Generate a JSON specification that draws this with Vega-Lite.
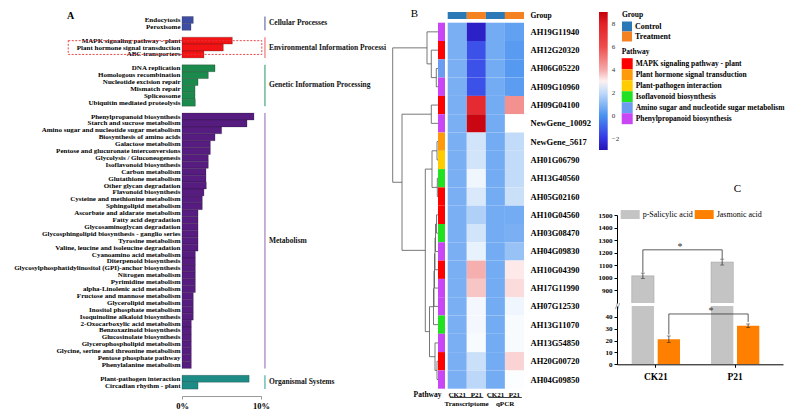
{
"$schema": "https://vega.github.io/schema/vega-lite/v6.json",
"autosize": {"type": "none"},
"padding": {"left": 182, "top": 12, "right": 612, "bottom": 399},
"background": "white",
"config": {
  "view": {"stroke": "transparent"},
  "font": "Liberation Serif",
  "axis": {"labelFont": "Liberation Serif", "titleFont": "Liberation Serif", "labelColor": "#000", "titleColor": "#000", "grid": false, "labelOverlap": false, "labelBound": false},
  "legend": {"labelFont": "Liberation Serif", "titleFont": "Liberation Serif", "labelColor": "#000", "titleColor": "#000"},
  "text": {"font": "Liberation Serif"}
},
"bounds": "flush",
"spacing": 435,
"resolve": {"scale": {"color": "independent", "fill": "independent", "stroke": "independent", "x": "independent", "y": "independent"}, "legend": {"color": "independent", "fill": "independent"}},
"hconcat": [
 {
  "bounds": "flush",
  "spacing": 129,
  "resolve": {"scale": {"color": "independent", "fill": "independent", "stroke": "independent", "x": "independent", "y": "independent"}, "legend": {"color": "independent", "fill": "independent"}},
  "hconcat": [
   {
    "width": 79,
    "height": 384,
    "layer": [
     {
      "data": {"values": [
       {"p": "Endocytosis", "g": "Cellular Processes", "v": 1.43},
       {"p": "Peroxisome", "g": "Cellular Processes", "v": 1.14},
       {"p": "MAPK signaling pathway - plant", "g": "Environmental Information Processing", "v": 6.37},
       {"p": "Plant hormone signal transduction", "g": "Environmental Information Processing", "v": 5.23},
       {"p": "ABC transporters", "g": "Environmental Information Processing", "v": 2.78},
       {"p": "DNA replication", "g": "Genetic Information Processing", "v": 4.18},
       {"p": "Homologous recombination", "g": "Genetic Information Processing", "v": 3.33},
       {"p": "Nucleotide excision repair", "g": "Genetic Information Processing", "v": 2.03},
       {"p": "Mismatch repair", "g": "Genetic Information Processing", "v": 1.65},
       {"p": "Spliceosome", "g": "Genetic Information Processing", "v": 1.65},
       {"p": "Ubiquitin mediated proteolysis", "g": "Genetic Information Processing", "v": 1.69},
       {"p": "Phenylpropanoid biosynthesis", "g": "Metabolism", "v": 9.11},
       {"p": "Starch and sucrose metabolism", "g": "Metabolism", "v": 8.23},
       {"p": "Amino sugar and nucleotide sugar metabolism", "g": "Metabolism", "v": 5.02},
       {"p": "Biosynthesis of amino acids", "g": "Metabolism", "v": 4.18},
       {"p": "Galactose metabolism", "g": "Metabolism", "v": 3.59},
       {"p": "Pentose and glucuronate interconversions", "g": "Metabolism", "v": 3.59},
       {"p": "Glycolysis / Gluconeogenesis", "g": "Metabolism", "v": 3.33},
       {"p": "Isoflavonoid biosynthesis", "g": "Metabolism", "v": 3.33},
       {"p": "Carbon metabolism", "g": "Metabolism", "v": 3.04},
       {"p": "Glutathione metabolism", "g": "Metabolism", "v": 3.04},
       {"p": "Other glycan degradation", "g": "Metabolism", "v": 3.08},
       {"p": "Flavonoid biosynthesis", "g": "Metabolism", "v": 2.78},
       {"p": "Cysteine and methionine metabolism", "g": "Metabolism", "v": 2.57},
       {"p": "Sphingolipid metabolism", "g": "Metabolism", "v": 2.57},
       {"p": "Ascorbate and aldarate metabolism", "g": "Metabolism", "v": 2.03},
       {"p": "Fatty acid degradation", "g": "Metabolism", "v": 2.03},
       {"p": "Glycosaminoglycan degradation", "g": "Metabolism", "v": 2.03},
       {"p": "Glycosphingolipid biosynthesis - ganglio series", "g": "Metabolism", "v": 2.03},
       {"p": "Tyrosine metabolism", "g": "Metabolism", "v": 2.03},
       {"p": "Valine, leucine and isoleucine degradation", "g": "Metabolism", "v": 2.03},
       {"p": "Cyanoamino acid metabolism", "g": "Metabolism", "v": 1.69},
       {"p": "Diterpenoid biosynthesis", "g": "Metabolism", "v": 1.69},
       {"p": "Glycosylphosphatidylinositol (GPI)-anchor biosynthesis", "g": "Metabolism", "v": 1.69},
       {"p": "Nitrogen metabolism", "g": "Metabolism", "v": 1.69},
       {"p": "Pyrimidine metabolism", "g": "Metabolism", "v": 1.69},
       {"p": "alpha-Linolenic acid metabolism", "g": "Metabolism", "v": 1.69},
       {"p": "Fructose and mannose metabolism", "g": "Metabolism", "v": 1.43},
       {"p": "Glycerolipid metabolism", "g": "Metabolism", "v": 1.43},
       {"p": "Inositol phosphate metabolism", "g": "Metabolism", "v": 1.43},
       {"p": "Isoquinoline alkaloid biosynthesis", "g": "Metabolism", "v": 1.43},
       {"p": "2-Oxocarboxylic acid metabolism", "g": "Metabolism", "v": 1.18},
       {"p": "Benzoxazinoid biosynthesis", "g": "Metabolism", "v": 1.18},
       {"p": "Glucosinolate biosynthesis", "g": "Metabolism", "v": 1.18},
       {"p": "Glycerophospholipid metabolism", "g": "Metabolism", "v": 1.18},
       {"p": "Glycine, serine and threonine metabolism", "g": "Metabolism", "v": 1.18},
       {"p": "Pentose phosphate pathway", "g": "Metabolism", "v": 1.18},
       {"p": "Phenylalanine metabolism", "g": "Metabolism", "v": 1.18},
       {"p": "Plant-pathogen interaction", "g": "Organismal Systems", "v": 8.5},
       {"p": "Circadian rhythm - plant", "g": "Organismal Systems", "v": 2.03}
      ]},
      "mark": {"type": "bar", "stroke": "#1a1a1a", "strokeWidth": 0.4, "strokeOpacity": 0.6},
      "encoding": {
       "y": {"field": "p", "type": "nominal",
        "scale": {"domain": ["Endocytosis","Peroxisome","_s1","MAPK signaling pathway - plant","Plant hormone signal transduction","ABC transporters","_s2","DNA replication","Homologous recombination","Nucleotide excision repair","Mismatch repair","Spliceosome","Ubiquitin mediated proteolysis","_s3","Phenylpropanoid biosynthesis","Starch and sucrose metabolism","Amino sugar and nucleotide sugar metabolism","Biosynthesis of amino acids","Galactose metabolism","Pentose and glucuronate interconversions","Glycolysis / Gluconeogenesis","Isoflavonoid biosynthesis","Carbon metabolism","Glutathione metabolism","Other glycan degradation","Flavonoid biosynthesis","Cysteine and methionine metabolism","Sphingolipid metabolism","Ascorbate and aldarate metabolism","Fatty acid degradation","Glycosaminoglycan degradation","Glycosphingolipid biosynthesis - ganglio series","Tyrosine metabolism","Valine, leucine and isoleucine degradation","Cyanoamino acid metabolism","Diterpenoid biosynthesis","Glycosylphosphatidylinositol (GPI)-anchor biosynthesis","Nitrogen metabolism","Pyrimidine metabolism","alpha-Linolenic acid metabolism","Fructose and mannose metabolism","Glycerolipid metabolism","Inositol phosphate metabolism","Isoquinoline alkaloid biosynthesis","2-Oxocarboxylic acid metabolism","Benzoxazinoid biosynthesis","Glucosinolate biosynthesis","Glycerophospholipid metabolism","Glycine, serine and threonine metabolism","Pentose phosphate pathway","Phenylalanine metabolism","_s4","Plant-pathogen interaction","Circadian rhythm - plant","_s5"],
         "paddingInner": 0, "paddingOuter": 0.326, "align": 1},
        "axis": {"title": "A", "titleX": -112, "titleY": 3, "titleAngle": 0, "titleFontSize": 10, "titleFontWeight": "bold", "titleAlign": "center", "titleBaseline": "middle",
         "domain": false, "ticks": false, "labelFontSize": 7, "labelFontWeight": "bold", "labelPadding": 2, "labelLimit": 0, "labelOverlap": false,
         "labelExpr": "indexof(datum.value, '_s') == 0 ? '' : datum.value"}},
       "x": {"field": "v", "type": "quantitative", "scale": {"domain": [0, 10], "nice": false, "zero": true},
        "axis": {"values": [0, 10], "tickCount": 10, "labelExpr": "datum.value + '%'", "title": null, "domainColor": "#999", "tickColor": "#999", "tickSize": 3, "labelFontSize": 8.5, "labelFontWeight": "bold", "labelPadding": 2, "labelFlush": false}},
       "fill": {"field": "g", "type": "nominal", "scale": {"domain": ["Cellular Processes","Environmental Information Processing","Genetic Information Processing","Metabolism","Organismal Systems"], "range": ["#3E4DA3","#F21414","#1C8A4C","#561C80","#1E8C86"]}, "legend": null}
      }
     },
     {
      "data": {"values": [
       {"g": "Cellular Processes", "p": "Endocytosis"},
       {"g": "Cellular Processes", "p": "_s1"},
       {"g": "Environmental Information Processing", "p": "MAPK signaling pathway - plant"},
       {"g": "Environmental Information Processing", "p": "_s2"},
       {"g": "Genetic Information Processing", "p": "DNA replication"},
       {"g": "Genetic Information Processing", "p": "_s3"},
       {"g": "Metabolism", "p": "Phenylpropanoid biosynthesis"},
       {"g": "Metabolism", "p": "_s4"},
       {"g": "Organismal Systems", "p": "Plant-pathogen interaction"},
       {"g": "Organismal Systems", "p": "_s5"}
      ]},
      "mark": {"type": "line", "strokeWidth": 1.1},
      "encoding": {
       "y": {"field": "p", "type": "nominal", "bandPosition": 0},
       "x": {"datum": 10.5},
       "stroke": {"field": "g", "type": "nominal", "scale": {"domain": ["Cellular Processes","Environmental Information Processing","Genetic Information Processing","Metabolism","Organismal Systems"], "range": ["#5C5FA8","#EE6A70","#34A070","#9B72B8","#3AA6A6"]}, "legend": null}
      }
     },
     {
      "data": {"values": [
       {"g": "Cellular Processes", "p": "Peroxisome"},
       {"g": "Genetic Information Processing", "p": "Mismatch repair"},
       {"g": "Organismal Systems", "p": "Circadian rhythm - plant"}
      ]},
      "mark": {"type": "text", "align": "left", "baseline": "middle", "fontSize": 7.5, "fontWeight": "bold", "color": "#111", "limit": 118, "ellipsis": "\u200b"},
      "encoding": {
       "y": {"field": "p", "type": "nominal", "bandPosition": 0},
       "x": {"datum": 11},
       "text": {"field": "g"}
      }
     },
     {
      "data": {"values": [
       {"g": "Environmental Information Processing", "p": "Plant hormone signal transduction"},
       {"g": "Metabolism", "p": "Tyrosine metabolism"}
      ]},
      "mark": {"type": "text", "align": "left", "baseline": "middle", "fontSize": 7.5, "fontWeight": "bold", "color": "#111", "limit": 118, "ellipsis": "\u200b"},
      "encoding": {
       "y": {"field": "p", "type": "nominal", "bandPosition": 0.5},
       "x": {"datum": 11},
       "text": {"field": "g"}
      }
     },
     {
      "data": {"values": [{"box": "highlight"}]},
      "mark": {"type": "rect", "fill": "transparent", "stroke": "#E8343A", "strokeWidth": 0.9, "strokeDash": [2, 1.5]},
      "encoding": {
       "x": {"datum": -14.4},
       "x2": {"datum": 10.1},
       "y": {"datum": "MAPK signaling pathway - plant", "type": "nominal"},
       "y2": {"datum": "ABC transporters"}
      }
     }
    ]
   },
   {
    "bounds": "flush",
    "spacing": 57.7,
    "resolve": {"scale": {"color": "independent", "fill": "independent", "stroke": "independent", "x": "independent", "y": "independent"}, "legend": {"color": "independent", "fill": "independent"}},
    "hconcat": [
     {
      "bounds": "flush",
      "spacing": 0,
      "resolve": {"scale": {"color": "independent", "fill": "independent", "stroke": "independent", "x": "independent", "y": "independent"}, "legend": {"color": "independent", "fill": "independent"}},
      "hconcat": [
       {
        "width": 48,
        "height": 376.7,
        "data": {"values": [
         {"x": 0, "x2": 11, "y": 1, "y2": 1},
         {"x": 0, "x2": 6.7, "y": 2, "y2": 2},
         {"x": 0, "x2": 1.7, "y": 3, "y2": 3},
         {"x": 0, "x2": 1.7, "y": 4, "y2": 4},
         {"x": 0, "x2": 6.7, "y": 5, "y2": 5},
         {"x": 0, "x2": 6.7, "y": 6, "y2": 6},
         {"x": 0, "x2": 1, "y": 7, "y2": 7},
         {"x": 0, "x2": 1, "y": 8, "y2": 8},
         {"x": 0, "x2": 0.7, "y": 9, "y2": 9},
         {"x": 0, "x2": 0.7, "y": 10, "y2": 10},
         {"x": 0, "x2": 1.5, "y": 11, "y2": 11},
         {"x": 0, "x2": 1.5, "y": 12, "y2": 12},
         {"x": 0, "x2": 2.5, "y": 13, "y2": 13},
         {"x": 0, "x2": 3, "y": 14, "y2": 14},
         {"x": 0, "x2": 3.5, "y": 15, "y2": 15},
         {"x": 0, "x2": 4, "y": 16, "y2": 16},
         {"x": 0, "x2": 4.5, "y": 17, "y2": 17},
         {"x": 0, "x2": 3, "y": 18, "y2": 18},
         {"x": 0, "x2": 1, "y": 19, "y2": 19},
         {"x": 0, "x2": 1, "y": 20, "y2": 20},
         {"x": 1.7, "x2": 6.7, "y": 3.5, "y2": 3.5},
         {"x": 6.7, "x2": 11, "y": 2.75, "y2": 2.75},
         {"x": 11, "x2": 45.3, "y": 1.875, "y2": 1.875},
         {"x": 6.7, "x2": 36, "y": 5.5, "y2": 5.5},
         {"x": 1, "x2": 6, "y": 7.5, "y2": 7.5},
         {"x": 0.7, "x2": 6, "y": 9.5, "y2": 9.5},
         {"x": 6, "x2": 12.7, "y": 8.5, "y2": 8.5},
         {"x": 1.5, "x2": 2.5, "y": 11.5, "y2": 11.5},
         {"x": 2.5, "x2": 3, "y": 12.25, "y2": 12.25},
         {"x": 3, "x2": 3.5, "y": 13.125, "y2": 13.125},
         {"x": 3.5, "x2": 4, "y": 14.06, "y2": 14.06},
         {"x": 4, "x2": 4.5, "y": 15.03, "y2": 15.03},
         {"x": 4.5, "x2": 8.5, "y": 16.02, "y2": 16.02},
         {"x": 1, "x2": 3, "y": 19.5, "y2": 19.5},
         {"x": 3, "x2": 8.5, "y": 18.75, "y2": 18.75},
         {"x": 8.5, "x2": 12.7, "y": 17.38, "y2": 17.38},
         {"x": 12.7, "x2": 36, "y": 12.94, "y2": 12.94},
         {"x": 36, "x2": 45.3, "y": 9.22, "y2": 9.22},
         {"x": 1.7, "x2": 1.7, "y": 3, "y2": 4},
         {"x": 6.7, "x2": 6.7, "y": 2, "y2": 3.5},
         {"x": 11, "x2": 11, "y": 1, "y2": 2.75},
         {"x": 6.7, "x2": 6.7, "y": 5, "y2": 6},
         {"x": 1, "x2": 1, "y": 7, "y2": 8},
         {"x": 0.7, "x2": 0.7, "y": 9, "y2": 10},
         {"x": 6, "x2": 6, "y": 7.5, "y2": 9.5},
         {"x": 1.5, "x2": 1.5, "y": 11, "y2": 12},
         {"x": 2.5, "x2": 2.5, "y": 11.5, "y2": 13},
         {"x": 3, "x2": 3, "y": 12.25, "y2": 14},
         {"x": 3.5, "x2": 3.5, "y": 13.125, "y2": 15},
         {"x": 4, "x2": 4, "y": 14.06, "y2": 16},
         {"x": 4.5, "x2": 4.5, "y": 15.03, "y2": 17},
         {"x": 1, "x2": 1, "y": 19, "y2": 20},
         {"x": 3, "x2": 3, "y": 18, "y2": 19.5},
         {"x": 8.5, "x2": 8.5, "y": 16.02, "y2": 18.75},
         {"x": 12.7, "x2": 12.7, "y": 8.5, "y2": 17.38},
         {"x": 36, "x2": 36, "y": 5.5, "y2": 12.94},
         {"x": 45.3, "x2": 45.3, "y": 1.875, "y2": 9.22}
        ]},
        "mark": {"type": "rule", "color": "#555", "strokeWidth": 0.8},
        "encoding": {
         "x": {"field": "x", "type": "quantitative", "scale": {"domain": [0, 48], "reverse": true, "nice": false, "zero": false}, "axis": null},
         "x2": {"field": "x2"},
         "y": {"field": "y", "type": "quantitative", "scale": {"domain": [-0.0847, 20.5], "reverse": true, "nice": false, "zero": false},
          "axis": {"title": "B", "titleX": 24, "titleY": 1, "titleAngle": 0, "titleFontSize": 11, "titleFontWeight": "normal", "titleAlign": "center", "titleBaseline": "middle", "labels": false, "ticks": false, "domain": false, "grid": false}},
         "y2": {"field": "y2"}
        }
       },
       {
        "width": 7,
        "height": 376.7,
        "data": {"values": [
         {"gene": "AH19G11940", "pw": "Phenylpropanoid biosynthesis"},
         {"gene": "AH12G20320", "pw": "MAPK signaling pathway - plant"},
         {"gene": "AH06G05220", "pw": "Amino sugar and nucleotide sugar metabolism"},
         {"gene": "AH09G10960", "pw": "Phenylpropanoid biosynthesis"},
         {"gene": "AH09G04100", "pw": "MAPK signaling pathway - plant"},
         {"gene": "NewGene_10092", "pw": "Phenylpropanoid biosynthesis"},
         {"gene": "NewGene_5617", "pw": "Plant hormone signal transduction"},
         {"gene": "AH01G06790", "pw": "Plant-pathogen interaction"},
         {"gene": "AH13G40560", "pw": "Isoflavonoid biosynthesis"},
         {"gene": "AH05G02160", "pw": "MAPK signaling pathway - plant"},
         {"gene": "AH10G04560", "pw": "MAPK signaling pathway - plant"},
         {"gene": "AH03G08470", "pw": "Isoflavonoid biosynthesis"},
         {"gene": "AH04G09830", "pw": "Phenylpropanoid biosynthesis"},
         {"gene": "AH10G04390", "pw": "MAPK signaling pathway - plant"},
         {"gene": "AH17G11990", "pw": "Phenylpropanoid biosynthesis"},
         {"gene": "AH07G12530", "pw": "Phenylpropanoid biosynthesis"},
         {"gene": "AH13G11070", "pw": "Isoflavonoid biosynthesis"},
         {"gene": "AH13G54850", "pw": "Phenylpropanoid biosynthesis"},
         {"gene": "AH20G00720", "pw": "MAPK signaling pathway - plant"},
         {"gene": "AH04G09850", "pw": "Phenylpropanoid biosynthesis"}
        ]},
        "mark": "rect",
        "encoding": {
         "x": {"datum": "Pathway", "type": "nominal", "scale": {"paddingInner": 0, "paddingOuter": 0},
          "axis": {"title": null, "labelAngle": 0, "labelAlign": "right", "labelFontSize": 7.5, "labelFontWeight": "bold", "labelPadding": 2, "ticks": false, "domain": false}},
         "y": {"field": "gene", "type": "nominal", "sort": null, "scale": {"paddingInner": 0, "paddingOuter": 0.2923, "align": 1}, "axis": null},
         "color": {"field": "pw", "type": "nominal",
          "scale": {"domain": ["MAPK signaling pathway - plant","Plant hormone signal transduction","Plant-pathogen interaction","Isoflavonoid biosynthesis","Amino sugar and nucleotide sugar metabolism","Phenylpropanoid biosynthesis"],
                    "range": ["#FF0000","#FF9A0A","#FFCC00","#22E022","#6C9CF0","#C946F5"]},
          "legend": {"orient": "none", "legendX": 183.7, "legendY": 35.7, "title": "Pathway", "titleFontSize": 7.5, "titleFontWeight": "bold", "titlePadding": 3,
                     "symbolType": "square", "symbolSize": 121, "symbolStrokeWidth": 0, "rowPadding": 0, "labelFontSize": 7.5, "labelFontWeight": "bold", "labelOffset": 3, "labelLimit": 0}}
        }
       }
      ]
     },
     {
      "bounds": "flush",
      "spacing": 385,
      "resolve": {"scale": {"color": "independent", "fill": "independent", "stroke": "independent", "x": "independent", "y": "independent"}, "legend": {"color": "independent", "fill": "independent"}},
      "vconcat": [
       {
        "bounds": "flush",
        "spacing": 3.7,
        "resolve": {"scale": {"color": "independent", "fill": "independent", "stroke": "independent", "x": "independent", "y": "independent"}, "legend": {"color": "independent", "fill": "independent"}},
        "vconcat": [
         {
          "width": 76.3,
          "height": 7,
          "data": {"values": [
           {"col": "CK21_T", "grp": "Control", "row": "Group"},
           {"col": "P21_T", "grp": "Treatment", "row": "Group"},
           {"col": "CK21_q", "grp": "Control", "row": "Group"},
           {"col": "P21_q", "grp": "Treatment", "row": "Group"}
          ]},
          "mark": "rect",
          "encoding": {
           "x": {"field": "col", "type": "nominal", "sort": null, "scale": {"paddingInner": 0, "paddingOuter": 0}, "axis": null},
           "y": {"field": "row", "type": "nominal", "scale": {"paddingInner": 0, "paddingOuter": 0},
            "axis": {"title": null, "orient": "right", "ticks": false, "domain": false, "labelFontSize": 7.5, "labelFontWeight": "bold", "labelPadding": 6}},
           "color": {"field": "grp", "type": "nominal", "scale": {"domain": ["Control","Treatment"], "range": ["#2A78B6","#F48220"]},
            "legend": {"orient": "none", "legendX": 174.3, "legendY": -1, "title": "Group", "titleFontSize": 7.5, "titleFontWeight": "bold", "titlePadding": 3,
                       "symbolType": "square", "symbolSize": 100, "symbolStrokeWidth": 0, "rowPadding": 0, "labelFontSize": 8, "labelFontWeight": "bold", "labelOffset": 3}}
          }
         },
         {
          "width": 76.3,
          "height": 366,
          "data": {"values": [
           {"gene": "AH19G11940", "col": "CK21_T", "v": 0.8}, {"gene": "AH19G11940", "col": "P21_T", "v": -2.6}, {"gene": "AH19G11940", "col": "CK21_q", "v": 0.7}, {"gene": "AH19G11940", "col": "P21_q", "v": 0.4},
           {"gene": "AH12G20320", "col": "CK21_T", "v": 0.8}, {"gene": "AH12G20320", "col": "P21_T", "v": -1.4}, {"gene": "AH12G20320", "col": "CK21_q", "v": 0.7}, {"gene": "AH12G20320", "col": "P21_q", "v": 0.25},
           {"gene": "AH06G05220", "col": "CK21_T", "v": 0.8}, {"gene": "AH06G05220", "col": "P21_T", "v": -1.4}, {"gene": "AH06G05220", "col": "CK21_q", "v": 0.7}, {"gene": "AH06G05220", "col": "P21_q", "v": 0.2},
           {"gene": "AH09G10960", "col": "CK21_T", "v": 0.8}, {"gene": "AH09G10960", "col": "P21_T", "v": -1.4}, {"gene": "AH09G10960", "col": "CK21_q", "v": 0.7}, {"gene": "AH09G10960", "col": "P21_q", "v": 0.3},
           {"gene": "AH09G04100", "col": "CK21_T", "v": 0.8}, {"gene": "AH09G04100", "col": "P21_T", "v": 7.5}, {"gene": "AH09G04100", "col": "CK21_q", "v": 0.7}, {"gene": "AH09G04100", "col": "P21_q", "v": 4.5},
           {"gene": "NewGene_10092", "col": "CK21_T", "v": 0.8}, {"gene": "NewGene_10092", "col": "P21_T", "v": 8.8}, {"gene": "NewGene_10092", "col": "CK21_q", "v": 0.7}, {"gene": "NewGene_10092", "col": "P21_q", "v": 2.8},
           {"gene": "NewGene_5617", "col": "CK21_T", "v": 0.8}, {"gene": "NewGene_5617", "col": "P21_T", "v": 2.2}, {"gene": "NewGene_5617", "col": "CK21_q", "v": 0.7}, {"gene": "NewGene_5617", "col": "P21_q", "v": 2.0},
           {"gene": "AH01G06790", "col": "CK21_T", "v": 0.8}, {"gene": "AH01G06790", "col": "P21_T", "v": 2.2}, {"gene": "AH01G06790", "col": "CK21_q", "v": 0.7}, {"gene": "AH01G06790", "col": "P21_q", "v": 2.0},
           {"gene": "AH13G40560", "col": "CK21_T", "v": 0.8}, {"gene": "AH13G40560", "col": "P21_T", "v": 2.6}, {"gene": "AH13G40560", "col": "CK21_q", "v": 0.7}, {"gene": "AH13G40560", "col": "P21_q", "v": 2.0},
           {"gene": "AH05G02160", "col": "CK21_T", "v": 0.8}, {"gene": "AH05G02160", "col": "P21_T", "v": 2.3}, {"gene": "AH05G02160", "col": "CK21_q", "v": 0.7}, {"gene": "AH05G02160", "col": "P21_q", "v": 2.1},
           {"gene": "AH10G04560", "col": "CK21_T", "v": 0.8}, {"gene": "AH10G04560", "col": "P21_T", "v": 1.7}, {"gene": "AH10G04560", "col": "CK21_q", "v": 0.7}, {"gene": "AH10G04560", "col": "P21_q", "v": 0.7},
           {"gene": "AH03G08470", "col": "CK21_T", "v": 0.8}, {"gene": "AH03G08470", "col": "P21_T", "v": 2.2}, {"gene": "AH03G08470", "col": "CK21_q", "v": 0.7}, {"gene": "AH03G08470", "col": "P21_q", "v": 0.8},
           {"gene": "AH04G09830", "col": "CK21_T", "v": 0.8}, {"gene": "AH04G09830", "col": "P21_T", "v": 2.5}, {"gene": "AH04G09830", "col": "CK21_q", "v": 0.7}, {"gene": "AH04G09830", "col": "P21_q", "v": 1.3},
           {"gene": "AH10G04390", "col": "CK21_T", "v": 0.8}, {"gene": "AH10G04390", "col": "P21_T", "v": 3.9}, {"gene": "AH10G04390", "col": "CK21_q", "v": 0.7}, {"gene": "AH10G04390", "col": "P21_q", "v": 3.1},
           {"gene": "AH17G11990", "col": "CK21_T", "v": 0.8}, {"gene": "AH17G11990", "col": "P21_T", "v": 3.6}, {"gene": "AH17G11990", "col": "CK21_q", "v": 0.7}, {"gene": "AH17G11990", "col": "P21_q", "v": 3.3},
           {"gene": "AH07G12530", "col": "CK21_T", "v": 0.8}, {"gene": "AH07G12530", "col": "P21_T", "v": 2.65}, {"gene": "AH07G12530", "col": "CK21_q", "v": 0.7}, {"gene": "AH07G12530", "col": "P21_q", "v": 2.6},
           {"gene": "AH13G11070", "col": "CK21_T", "v": 0.8}, {"gene": "AH13G11070", "col": "P21_T", "v": 2.65}, {"gene": "AH13G11070", "col": "CK21_q", "v": 0.7}, {"gene": "AH13G11070", "col": "P21_q", "v": 2.7},
           {"gene": "AH13G54850", "col": "CK21_T", "v": 0.8}, {"gene": "AH13G54850", "col": "P21_T", "v": 2.7}, {"gene": "AH13G54850", "col": "CK21_q", "v": 0.7}, {"gene": "AH13G54850", "col": "P21_q", "v": 2.7},
           {"gene": "AH20G00720", "col": "CK21_T", "v": 0.8}, {"gene": "AH20G00720", "col": "P21_T", "v": 2.1}, {"gene": "AH20G00720", "col": "CK21_q", "v": 0.7}, {"gene": "AH20G00720", "col": "P21_q", "v": 3.4},
           {"gene": "AH04G09850", "col": "CK21_T", "v": 0.8}, {"gene": "AH04G09850", "col": "P21_T", "v": 1.9}, {"gene": "AH04G09850", "col": "CK21_q", "v": 0.7}, {"gene": "AH04G09850", "col": "P21_q", "v": 2.75}
          ]},
          "mark": "rect",
          "encoding": {
           "x": {"field": "col", "type": "nominal", "sort": null, "scale": {"paddingInner": 0, "paddingOuter": 0},
            "axis": {"title": null, "orient": "bottom", "labelExpr": "split(datum.value, '_')[0]", "labelAngle": 0, "labelFontSize": 7, "labelFontWeight": "bold", "labelPadding": 2, "ticks": false, "domain": false}},
           "y": {"field": "gene", "type": "nominal", "sort": null, "scale": {"paddingInner": 0, "paddingOuter": 0},
            "axis": {"title": null, "orient": "right", "ticks": false, "domain": false, "labelFontSize": 8.5, "labelFontWeight": "bold", "labelPadding": 6}},
           "color": {"field": "v", "type": "quantitative",
            "scale": {"domain": [-3, -2, 0, 2, 2.8, 4, 6, 8, 9], "range": ["#2414B4","#3535E4","#4A92F0","#C2DBF8","#FFFFFF","#F5A8A8","#EE4C4C","#E22028","#C4000C"], "interpolate": "rgb"},
            "legend": {"orient": "none", "legendX": 151.3, "legendY": -10.7, "direction": "vertical", "title": null, "gradientLength": 138, "gradientThickness": 8.7, "gradientStrokeWidth": 0,
                       "values": [-2, 0, 2, 4, 6, 8], "labelFontSize": 7, "labelOffset": 4, "labelColor": "#333"}}
          }
         }
        ]
       },
       {
        "width": 76.3,
        "height": 0.8,
        "data": {"values": [{"platform": "Transcriptome"}, {"platform": "qPCR"}]},
        "mark": {"type": "rect", "color": "#000"},
        "encoding": {
         "x": {"field": "platform", "type": "nominal", "sort": null, "scale": {"paddingInner": 0.13, "paddingOuter": 0.056},
          "axis": {"title": null, "labelAngle": 0, "labelFontSize": 7, "labelFontWeight": "bold", "labelPadding": 1.5, "ticks": false, "domain": false}}
        }
       }
      ]
     }
    ]
   }
  ]
 },
 {
  "bounds": "flush",
  "spacing": 3,
  "resolve": {"scale": {"color": "independent", "fill": "independent", "stroke": "independent", "x": "independent", "y": "independent"}, "legend": {"color": "independent", "fill": "independent"}},
  "vconcat": [
   {"width": 166, "height": 200, "data": {"values": []}, "mark": "point"},
   {
    "width": 166,
    "height": 88,
    "layer": [
     {
      "data": {"values": [
       {"grp": "CK21", "acid": "p-Salicylic acid", "v": 1016},
       {"grp": "P21", "acid": "p-Salicylic acid", "v": 1126}
      ]},
      "mark": {"type": "bar", "clip": true, "stroke": "#A0A0A0", "strokeWidth": 0.5},
      "encoding": {
       "x": {"field": "grp", "type": "nominal", "scale": {"domain": ["CK21","P21"], "paddingInner": 0.391, "paddingOuter": 0.242, "align": 0.383}, "axis": null},
       "xOffset": {"field": "acid", "type": "nominal", "scale": {"domain": ["p-Salicylic acid","Jasmonic acid"], "paddingInner": 0.14, "paddingOuter": 0}},
       "y": {"field": "v", "type": "quantitative", "scale": {"domain": [800, 1500], "nice": false, "zero": false},
        "axis": {"values": [900,1000,1100,1200,1300,1400,1500], "tickCount": 20, "format": "d", "labelOverlap": false, "labelFlush": false, "title": "C", "titleX": 120, "titleY": -27, "titleAngle": 0, "titleFontSize": 11, "titleFontWeight": "normal", "titleAlign": "center", "titleBaseline": "middle",
                 "labelFontSize": 7, "labelFontWeight": "bold", "labelPadding": 2, "tickSize": 3, "domainColor": "#000", "tickColor": "#000"}},
       "fill": {"field": "acid", "type": "nominal", "scale": {"domain": ["p-Salicylic acid","Jasmonic acid"], "range": ["#C4C4C4","#FF8000"]},
        "legend": {"orient": "none", "legendX": 3.7, "legendY": -10, "direction": "horizontal", "title": null, "symbolType": "M-1,-0.47H1V0.47H-1Z", "symbolSize": 361, "symbolStrokeWidth": 0,
                   "labelFontSize": 8, "labelOffset": 3, "columnPadding": 2}}
      }
     },
     {
      "data": {"values": [
       {"grp": "CK21", "acid": "p-Salicylic acid", "lo": 995, "hi": 1038},
       {"grp": "P21", "acid": "p-Salicylic acid", "lo": 1102, "hi": 1149}
      ]},
      "mark": {"type": "rule", "color": "#222", "strokeWidth": 0.7},
      "encoding": {
       "x": {"field": "grp", "type": "nominal"},
       "xOffset": {"field": "acid", "type": "nominal"},
       "y": {"field": "lo", "type": "quantitative"},
       "y2": {"field": "hi"}
      }
     },
     {
      "data": {"values": [
       {"grp": "CK21", "acid": "p-Salicylic acid", "e": 995},
       {"grp": "CK21", "acid": "p-Salicylic acid", "e": 1038},
       {"grp": "P21", "acid": "p-Salicylic acid", "e": 1102},
       {"grp": "P21", "acid": "p-Salicylic acid", "e": 1149}
      ]},
      "mark": {"type": "tick", "color": "#222", "size": 4, "thickness": 0.7},
      "encoding": {
       "x": {"field": "grp", "type": "nominal"},
       "xOffset": {"field": "acid", "type": "nominal"},
       "y": {"field": "e", "type": "quantitative"}
      }
     },
     {
      "data": {"values": [
       {"grp": "CK21", "acid": "p-Salicylic acid", "v": 1043, "o": 1},
       {"grp": "CK21", "acid": "p-Salicylic acid", "v": 1223, "o": 2},
       {"grp": "P21", "acid": "p-Salicylic acid", "v": 1223, "o": 3},
       {"grp": "P21", "acid": "p-Salicylic acid", "v": 1151, "o": 4}
      ]},
      "mark": {"type": "line", "color": "#333", "strokeWidth": 0.8},
      "encoding": {
       "x": {"field": "grp", "type": "nominal"},
       "xOffset": {"field": "acid", "type": "nominal"},
       "y": {"field": "v", "type": "quantitative"},
       "order": {"field": "o"}
      }
     },
     {
      "data": {"values": [{"grp": "CK21", "v": 1223}]},
      "mark": {"type": "text", "text": "*", "fontSize": 10, "baseline": "alphabetic", "align": "center", "color": "#333"},
      "encoding": {
       "x": {"field": "grp", "type": "nominal", "bandPosition": 1},
       "y": {"field": "v", "type": "quantitative"}
      }
     }
    ]
   },
   {
    "width": 166,
    "height": 58.3,
    "layer": [
     {
      "data": {"values": [
       {"grp": "CK21", "acid": "p-Salicylic acid", "v": 1016},
       {"grp": "CK21", "acid": "Jasmonic acid", "v": 21},
       {"grp": "P21", "acid": "p-Salicylic acid", "v": 1126},
       {"grp": "P21", "acid": "Jasmonic acid", "v": 32.3}
      ]},
      "mark": {"type": "bar", "clip": true},
      "encoding": {
       "x": {"field": "grp", "type": "nominal", "scale": {"domain": ["CK21","P21"], "paddingInner": 0.391, "paddingOuter": 0.242, "align": 0.383},
        "axis": {"title": null, "labelAngle": 0, "labelFontSize": 9.5, "labelFontWeight": "bold", "labelPadding": 4, "tickSize": 3, "domainColor": "#000", "tickColor": "#000"}},
       "xOffset": {"field": "acid", "type": "nominal", "scale": {"domain": ["p-Salicylic acid","Jasmonic acid"], "paddingInner": 0.14, "paddingOuter": 0}},
       "y": {"field": "v", "type": "quantitative", "scale": {"domain": [0, 49], "nice": false, "zero": false},
        "axis": {"values": [0,10,20,30,40], "tickCount": 20, "format": "d", "labelOverlap": false, "labelFlush": false, "title": "//", "titleX": 0, "titleY": 0, "titleAngle": 0, "titleFontSize": 8, "titleFontWeight": "normal", "titleAlign": "center", "titleBaseline": "middle",
                 "labelFontSize": 7, "labelFontWeight": "bold", "labelPadding": 2, "tickSize": 3, "domainColor": "#000", "tickColor": "#000"}},
       "fill": {"field": "acid", "type": "nominal", "scale": {"domain": ["p-Salicylic acid","Jasmonic acid"], "range": ["#C4C4C4","#FF8000"]}, "legend": null}
      }
     },
     {
      "data": {"values": [
       {"grp": "CK21", "acid": "Jasmonic acid", "lo": 18.2, "hi": 23.8},
       {"grp": "P21", "acid": "Jasmonic acid", "lo": 30.8, "hi": 33.9}
      ]},
      "mark": {"type": "rule", "color": "#222", "strokeWidth": 0.7},
      "encoding": {
       "x": {"field": "grp", "type": "nominal"},
       "xOffset": {"field": "acid", "type": "nominal"},
       "y": {"field": "lo", "type": "quantitative"},
       "y2": {"field": "hi"}
      }
     },
     {
      "data": {"values": [
       {"grp": "CK21", "acid": "Jasmonic acid", "e": 18.2},
       {"grp": "CK21", "acid": "Jasmonic acid", "e": 23.8},
       {"grp": "P21", "acid": "Jasmonic acid", "e": 30.8},
       {"grp": "P21", "acid": "Jasmonic acid", "e": 33.9}
      ]},
      "mark": {"type": "tick", "color": "#222", "size": 4, "thickness": 0.7},
      "encoding": {
       "x": {"field": "grp", "type": "nominal"},
       "xOffset": {"field": "acid", "type": "nominal"},
       "y": {"field": "e", "type": "quantitative"}
      }
     },
     {
      "data": {"values": [
       {"grp": "CK21", "acid": "Jasmonic acid", "v": 25, "o": 1},
       {"grp": "CK21", "acid": "Jasmonic acid", "v": 42.3, "o": 2},
       {"grp": "P21", "acid": "Jasmonic acid", "v": 42.3, "o": 3},
       {"grp": "P21", "acid": "Jasmonic acid", "v": 35.5, "o": 4}
      ]},
      "mark": {"type": "line", "color": "#333", "strokeWidth": 0.8},
      "encoding": {
       "x": {"field": "grp", "type": "nominal"},
       "xOffset": {"field": "acid", "type": "nominal"},
       "y": {"field": "v", "type": "quantitative"},
       "order": {"field": "o"}
      }
     },
     {
      "data": {"values": [{"grp": "P21", "v": 42.3}]},
      "mark": {"type": "text", "text": "*", "fontSize": 10, "baseline": "alphabetic", "align": "center", "color": "#333"},
      "encoding": {
       "x": {"field": "grp", "type": "nominal", "bandPosition": 0},
       "y": {"field": "v", "type": "quantitative"}
      }
     }
    ]
   }
  ]
 }
]
}
